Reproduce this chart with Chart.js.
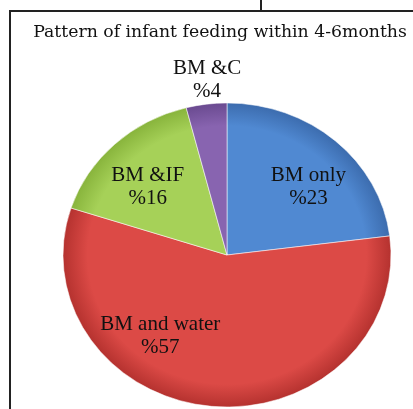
<!DOCTYPE html>
<html>
<head>
<meta charset="utf-8">
<script src="https://cdn.jsdelivr.net/npm/chart.js@4"></script>
<style>
  html, body { margin: 0; padding: 0; background: #fff; overflow: hidden; }
  #wrap { position: relative; width: 413px; height: 409px; overflow: hidden; }
  #frame { position: absolute; left: 9px; top: 10px; width: 420px; height: 420px;
           border-left: 2px solid #222; border-top: 2px solid #222; }
  #tick { position: absolute; left: 260px; top: 0; width: 2px; height: 10px; background: #222; }
  canvas { position: absolute; left: 0; top: 0; }
</style>
</head>
<body>
<div id="wrap">
  <div id="tick"></div>
  <div id="frame"></div>
  <canvas id="pie" width="413" height="440"></canvas>
</div>
<script>
// Datos del gráfico
const titulo = 'Pattern of infant feeding within 4-6months';
const categorias = ['BM only', 'BM and water', 'BM &IF', 'BM &C'];
const porcentajes = [23, 57, 16, 4];
const etiquetas = ['%23', '%57', '%16', '%4'];

const coloresCentro = ['#5089d2', '#dc4a46', '#a6d158', '#8864b0'];
const coloresBorde = ['#3c6cae', '#b5322f', '#88b43c', '#6a4a90'];

const RADIO = 164;
const ESCALA_Y = 0.927; // efecto 3D (elipse)

// Relleno con degradado radial para simular el bisel
function relleno(context) {
    const chart = context.chart;
    const area = chart.chartArea;
    const i = context.dataIndex;
    if (!area) return coloresCentro[i];
    const cx = (area.left + area.right) / 2;
    const cy = (area.top + area.bottom) / 2;
    const g = chart.ctx.createRadialGradient(cx, cy, 0, cx, cy, RADIO);
    g.addColorStop(0, coloresCentro[i]);
    g.addColorStop(0.85, coloresCentro[i]);
    g.addColorStop(1, coloresBorde[i]);
    return g;
}

// Aplana el pastel verticalmente
const elipse = {
    id: 'elipse',
    beforeDatasetsDraw(chart) {
        const a = chart.chartArea;
        const cx = (a.left + a.right) / 2, cy = (a.top + a.bottom) / 2;
        const ctx = chart.ctx;
        ctx.save();
        ctx.translate(cx, cy);
        ctx.scale(1, ESCALA_Y);
        ctx.translate(-cx, -cy);
    },
    afterDatasetsDraw(chart) {
        chart.ctx.restore();
    }
};

// Título (centrado en el marco, no en el pastel)
const encabezado = {
    id: 'encabezado',
    afterDraw(chart, args, opts) {
        const ctx = chart.ctx;
        ctx.save();
        ctx.font = opts.font;
        ctx.fillStyle = opts.color;
        ctx.textAlign = 'center';
        ctx.textBaseline = 'middle';
        ctx.fillText(titulo, opts.x, opts.y);
        ctx.restore();
    }
};

// Etiquetas dentro / fuera de cada porción
const rotulos = {
    id: 'rotulos',
    afterDraw(chart, args, opts) {
        const ctx = chart.ctx;
        const meta = chart.getDatasetMeta(0);
        ctx.save();
        ctx.font = opts.font;
        ctx.fillStyle = opts.color;
        ctx.textAlign = 'center';
        ctx.textBaseline = 'middle';
        meta.data.forEach((arc, i) => {
            const p = opts.colocacion[i];
            const mid = (arc.startAngle + arc.endAngle) / 2 + p.giro * Math.PI / 180;
            const r = arc.outerRadius * p.f;
            const x = arc.x + Math.cos(mid) * r;
            const y = arc.y + Math.sin(mid) * r * ESCALA_Y;
            ctx.fillText(categorias[i], x, y - opts.linea / 2);
            ctx.fillText(etiquetas[i], x, y + opts.linea / 2);
        });
        ctx.restore();
    }
};

new Chart(document.getElementById('pie'), {
    type: 'pie',
    data: {
        labels: categorias,
        datasets: [{
            data: porcentajes,
            backgroundColor: relleno,
            borderColor: 'rgba(255,255,255,0.55)',
            borderWidth: 1,
            hoverOffset: 0,
            radius: RADIO
        }]
    },
    options: {
        responsive: false,
        animation: false,
        events: [],
        layout: {
            padding: { left: 63, right: 22, top: 91, bottom: 21 }
        },
        plugins: {
            legend: { display: false },
            tooltip: { enabled: false },
            title: { display: false },
            encabezado: {
                font: '17.3px "DejaVu Serif", serif',
                color: '#111',
                x: 220,
                y: 33
            },
            rotulos: {
                font: '21px "Liberation Serif", serif',
                color: '#111',
                linea: 23,
                colocacion: [
                    { f: 0.67, giro: 6.4 },
                    { f: 0.67, giro: 32 },
                    { f: 0.66, giro: -3.9 },
                    { f: 1.16, giro: 1.2 }
                ]
            }
        }
    },
    plugins: [elipse, encabezado, rotulos]
});
</script>
</body>
</html>
